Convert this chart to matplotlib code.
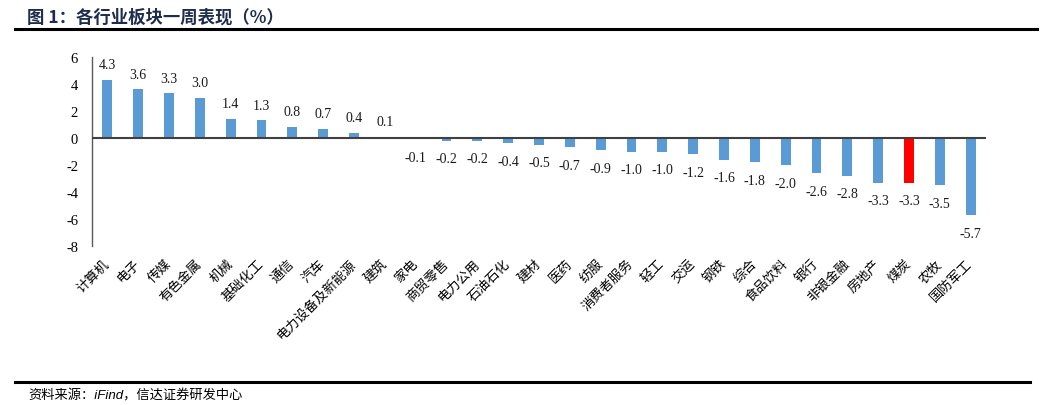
import matplotlib
matplotlib.use("Agg")
import matplotlib.pyplot as plt
from matplotlib.lines import Line2D

categories = ["计算机", "电子", "传媒", "有色金属", "机械", "基础化工", "通信", "汽车",
              "电力设备及新能源", "建筑", "家电", "商贸零售", "电力公用", "石油石化", "建材",
              "医药", "纺服", "消费者服务", "轻工", "交运", "钢铁", "综合", "食品饮料",
              "银行", "非银金融", "房地产", "煤炭", "农牧", "国防军工"]
values = [4.3, 3.6, 3.3, 3.0, 1.4, 1.3, 0.8, 0.7, 0.4, 0.1, -0.1, -0.2, -0.2, -0.4, -0.5,
          -0.7, -0.9, -1.0, -1.0, -1.2, -1.6, -1.8, -2.0, -2.6, -2.8, -3.3, -3.3, -3.5, -5.7]
highlight = "煤炭"
yticks = [6, 4, 2, 0, -2, -4, -6, -8]

title = "图 1：各行业板块一周表现（%）"
source = "资料来源：iFind，信达证券研发中心"

cjk = ["Noto Sans CJK SC", "DejaVu Sans"]
serif = ["Liberation Serif", "DejaVu Serif"]

fig = plt.figure(figsize=(10.5, 4.06), dpi=100)
ax = fig.add_axes([92 / 1050, 1 - 247 / 406, (986 - 92) / 1050, (247 - 58) / 406])

colors = ["#FF0000" if c == highlight else "#5B9BD5" for c in categories]
x = list(range(len(categories)))
ax.bar(x, values, width=0.32, color=colors, zorder=2)

ax.set_xlim(-0.5, len(categories) - 0.5)
ax.set_ylim(-8, 6)
ax.set_yticks(yticks)
ax.set_yticklabels([str(t) for t in yticks], family=serif, fontsize=10.5)
ax.tick_params(axis="y", length=0, pad=10)

ax.set_xticks(x)
ax.set_xticklabels(categories, family=cjk, fontsize=9.5, rotation=45,
                   ha="right", va="center", rotation_mode="anchor")
ax.tick_params(axis="x", length=0, pad=11)

for s in ["top", "right", "bottom"]:
    ax.spines[s].set_visible(False)
ax.spines["left"].set_color("#595959")
ax.spines["left"].set_linewidth(1.0)
ax.axhline(0, color="#404040", lw=1.5, zorder=3)

for xi, v in zip(x, values):
    off = 11 if v >= 0 else -13
    ax.annotate(f"{v:.1f}", (xi, v), xytext=(0, off), textcoords="offset points",
                ha="center", va="center", family=serif, fontsize=10, color="#1a1a1a")

fig.text(27 / 1050, 1 - 18 / 406, title, family=cjk, fontsize=12.5, fontweight="bold",
         color="#1F2D4D", ha="left", va="center")
fig.add_artist(Line2D([15 / 1050, 1037 / 1050], [1 - 30 / 406, 1 - 30 / 406],
                      color="black", lw=2.2, transform=fig.transFigure))
fig.add_artist(Line2D([15 / 1050, 1030 / 1050], [1 - 383 / 406, 1 - 383 / 406],
                      color="black", lw=2.2, transform=fig.transFigure))
fig.text(28 / 1050, 1 - 396 / 406, source, family=["Liberation Sans", "Noto Sans CJK SC"],
         style="italic", fontsize=9.5, color="black", ha="left", va="center")

fig.savefig("out.png", dpi=100)
